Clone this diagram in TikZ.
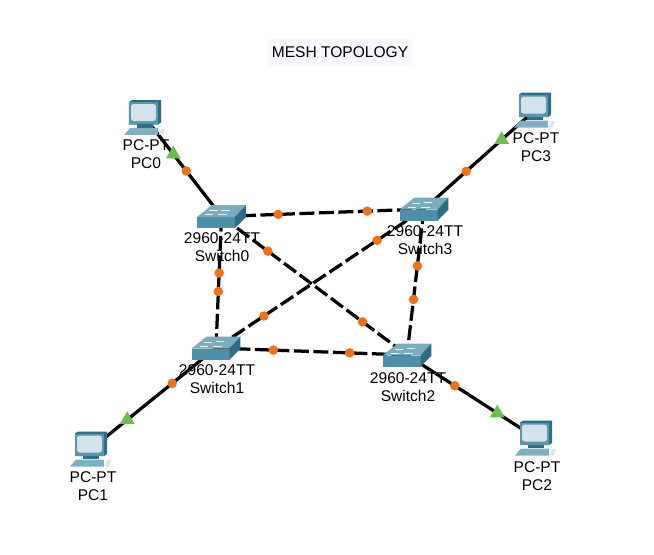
\documentclass[tikz,border=0pt]{standalone}
\usepackage{fontspec}
\setmainfont{Liberation Sans}
\usetikzlibrary{shapes.geometric,backgrounds}
\definecolor{TitleBg}{RGB}{246,248,254}
\definecolor{LinkOrange}{RGB}{247,112,16}
\definecolor{LinkGreen}{RGB}{106,190,75}
\definecolor{SwFront}{RGB}{78,143,168}
\definecolor{SwTop}{RGB}{122,172,190}
\definecolor{SwSide}{RGB}{44,108,132}
\definecolor{PcFrame}{RGB}{88,150,172}
\definecolor{PcDark}{RGB}{46,110,134}
\definecolor{PcScreen}{RGB}{212,227,235}
\definecolor{PcTray}{RGB}{126,176,194}
\newcommand{\SwitchIcon}{%
  \begin{scope}[shift={(path picture bounding box.center)}]
    \fill[SwFront] (-24.5,.5) -- (13.5,.5) -- (13.5,11.5) -- (-24.5,11.5) -- cycle;
    \fill[SwTop] (-24.5,.5) -- (-9.5,-11.5) -- (24.5,-11.5) -- (13.5,.5) -- cycle;
    \fill[SwSide] (13.5,.5) -- (24.5,-11.5) -- (24.5,.5) -- (13.5,11.5) -- cycle;
    \draw[white!85!SwTop,line width=.5pt] (-12,-6) -- (-4,-6) (0,-6.5) -- (8,-6.5) (-16,-2) -- (-8,-2) (-3,-2) -- (6,-2);
  \end{scope}}
\newcommand{\PcIcon}{%
  \begin{scope}[shift={(path picture bounding box.center)}]
    \fill[PcDark] (-16,-15.5) -- (-13,-17.5) -- (16,-17.5) -- (16,5) -- (13,7) -- (-16,7) -- cycle;
    \fill[PcFrame] (-16,-15.5) rectangle (13,6.5);
    \fill[PcScreen,rounded corners=1.5] (-14,-13.5) rectangle (11,3.5);
    \fill[PcDark] (-8,6.5) rectangle (8,10);
    \fill[PcTray] (-21,17.5) -- (-15,10.5) -- (13,10.5) -- (13,17.5) -- cycle;
    \fill[white!70!PcTray] (14,17.5) -- (16,11) -- (20,11) -- (18,17.5) -- cycle;
  \end{scope}}
\begin{document}
\begin{tikzpicture}[x=0.02cm,y=-0.02cm,
  swbox/.style={minimum width=0.98cm,minimum height=0.46cm,inner sep=0pt,path picture={\SwitchIcon}},
  pcbox/.style={minimum width=0.84cm,minimum height=0.70cm,inner sep=0pt,path picture={\PcIcon}},
  lbl/.style={align=center,inner sep=0pt,font=\fontsize{8.85}{10.2}\selectfont},
  link/.style={draw=black,line width=1.85pt},
  trunk/.style={link,dash pattern=on 0.30cm off 0.09cm},
  linkdot/.style={circle,fill=LinkOrange,inner sep=0pt,minimum size=0.19cm,solid},
  linktri/.style={regular polygon,regular polygon sides=3,fill=LinkGreen,inner sep=0pt,minimum size=0.34cm,solid}]
  \useasboundingbox (0,0) rectangle (654,555);
  \node[fill=TitleBg,minimum width=2.88cm,minimum height=0.54cm,inner sep=0pt,font=\fontsize{8.85}{10.2}\selectfont] (title) at (340,52.5) {MESH TOPOLOGY};

  \node[pcbox] (pc0) at (145,117.5) {};
  \node[pcbox] (pc1) at (91,449) {};
  \node[pcbox] (pc2) at (536,438) {};
  \node[pcbox] (pc3) at (535,110) {};
  \node[swbox] (sw0) at (221.5,216.5) {};
  \node[swbox] (sw1) at (216,348) {};
  \node[swbox] (sw2) at (407,355) {};
  \node[swbox] (sw3) at (424,209) {};

  \node[lbl] (pc0lbl) at (146,154) {PC-PT\\PC0};
  \node[lbl] (pc1lbl) at (93,486) {PC-PT\\PC1};
  \node[lbl] (pc2lbl) at (537,476) {PC-PT\\PC2};
  \node[lbl] (pc3lbl) at (536,147) {PC-PT\\PC3};
  \node[lbl] (sw0lbl) at (222,247.5) {2960-24TT\\Switch0};
  \node[lbl] (sw1lbl) at (217,379) {2960-24TT\\Switch1};
  \node[lbl] (sw2lbl) at (408,387) {2960-24TT\\Switch2};
  \node[lbl] (sw3lbl) at (425,240) {2960-24TT\\Switch3};

  \begin{scope}[on background layer]
    \draw[link] (pc0.center) -- node[linktri,pos=.37] {} node[linkdot,pos=.54] {} (sw0.center);
    \draw[link] (pc3.center) -- node[linktri,pos=.30] {} node[linkdot,pos=.62] {} (sw3.center);
    \draw[link] (sw1.center) -- node[linkdot,pos=.35] {} node[linktri,pos=.71] {} (pc1.center);
    \draw[link] (sw2.center) -- node[linkdot,pos=.37] {} node[linktri,pos=.70] {} (pc2.center);
    \draw[trunk] (sw0.center) -- node[linkdot,pos=.28] {} node[linkdot,pos=.72] {} (sw3.center);
    \draw[trunk] (sw0.center) -- node[linkdot,pos=.43] {} node[linkdot,pos=.57] {} (sw1.center);
    \draw[trunk] (sw0.center) -- node[linkdot,pos=.25] {} node[linkdot,pos=.76] {} (sw2.center);
    \draw[trunk] (sw1.center) -- node[linkdot,pos=.23] {} node[linkdot,pos=.775] {} (sw3.center);
    \draw[trunk] (sw1.center) -- node[linkdot,pos=.30] {} node[linkdot,pos=.70] {} (sw2.center);
    \draw[trunk] (sw3.center) -- node[linkdot,pos=.39] {} node[linkdot,pos=.62] {} (sw2.center);
  \end{scope}
\end{tikzpicture}
\end{document}
